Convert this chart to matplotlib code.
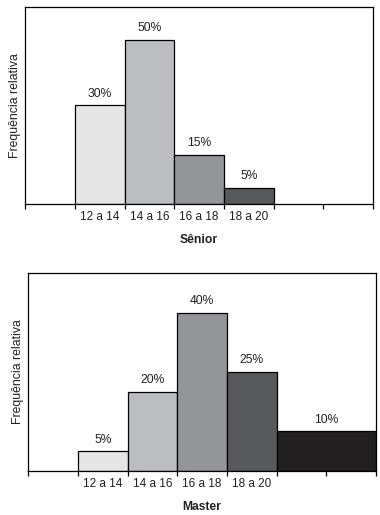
import matplotlib
matplotlib.use("Agg")
import matplotlib.pyplot as plt
import numpy as np

plt.rcParams['font.family'] = ['Liberation Sans', 'DejaVu Sans']

# class limits (years) and relative frequencies (%)
senior_edges = [12, 14, 16, 18, 20]
senior_labels = ["12 a 14", "14 a 16", "16 a 18", "18 a 20"]
senior_values = [30, 50, 15, 5]

master_edges = [12, 14, 16, 18, 20, 24]
master_labels = ["12 a 14", "14 a 16", "16 a 18", "18 a 20", "20 a 24"]
master_values = [5, 20, 40, 25, 10]

GRAYS = ["#e6e6e7", "#bcbdc0", "#939598", "#58595b", "#231f20"]


def draw_hist(ax, edges, labels, values, title, ymax):
    edges = np.array(edges, dtype=float)
    lefts = edges[:-1]
    widths = np.diff(edges)
    ax.bar(lefts, values, width=widths, align='edge',
           color=GRAYS[:len(values)], edgecolor='black', linewidth=0.9)
    for x, w, v in zip(lefts, widths, values):
        ax.annotate(f"{v}%", (x + w / 2, v), xytext=(0, 4),
                    textcoords='offset points', ha='center', va='bottom',
                    fontsize=8.7, color='#231f20')
    ax.set_xlim(10, 24)
    ax.set_ylim(0, ymax)
    ax.set_yticks([])
    ax.set_xticks(np.arange(10, 25, 2))
    ax.set_xticklabels([])
    ax.set_xticks(lefts + widths / 2, minor=True)
    ax.set_xticklabels(labels, minor=True, fontsize=8.5, color='#231f20')
    ax.tick_params(axis='x', which='major', direction='out', length=3.5,
                   width=0.9)
    ax.tick_params(axis='x', which='minor', length=0, pad=5)
    for s in ax.spines.values():
        s.set_linewidth(0.9)
    ax.set_ylabel("Frequência relativa", fontsize=8.8, color='#231f20',
                  labelpad=3)
    ax.set_xlabel(title, fontsize=8.7, fontweight='bold', color='#231f20',
                  labelpad=8)


fig = plt.figure(figsize=(3.8, 5.15), dpi=100)
ax1 = fig.add_axes([0.066, 0.604, 0.916, 0.3825])
ax2 = fig.add_axes([0.074, 0.0854, 0.916, 0.3845])

draw_hist(ax1, senior_edges, senior_labels, senior_values, "Sênior", 60)
draw_hist(ax2, master_edges, master_labels, master_values, "Master", 50)

fig.savefig("out.png", dpi=100)
